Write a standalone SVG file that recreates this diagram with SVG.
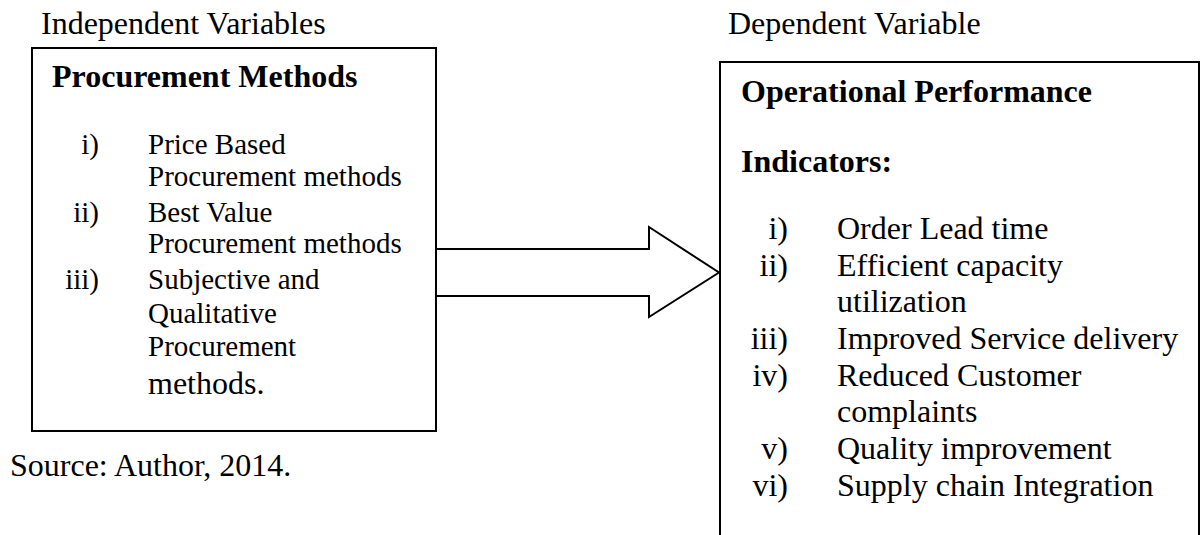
<svg xmlns="http://www.w3.org/2000/svg" width="1200" height="535" viewBox="0 0 1200 535">
  <style>
    text { font-family: "Liberation Serif", "Times New Roman", serif; fill: #000; }
    .hdr { font-size: 32px; }
    .ttl { font-size: 32px; font-weight: bold; }
    .sm { font-size: 29px; }
    .lg { font-size: 32px; }
    .num { text-anchor: end; }
    .box { fill: #fff; stroke: #000; stroke-width: 2; }
    .arrow { fill: #fff; stroke: #000; stroke-width: 2; stroke-linejoin: miter; }
  </style>
  <rect width="1200" height="535" fill="#fff"/>

  <g id="labels">
    <text class="hdr" x="41" y="34">Independent Variables</text>
    <text class="hdr" x="728" y="34">Dependent Variable</text>
    <text class="lg" x="10" y="476">Source: Author, 2014.</text>
  </g>

  <g id="connectors">
    <path class="arrow" d="M436,249 L649,249 L649,227 L719,272.5 L649,317 L649,296 L436,296"/>
  </g>

  <g id="procurement-methods">
    <rect class="box" x="32" y="48" width="404" height="383"/>
    <text class="ttl" x="52" y="87">Procurement Methods</text>
    <text class="sm num" x="99" y="154">i)</text>
    <text class="sm" x="148" y="154">Price Based</text>
    <text class="sm" x="148" y="186">Procurement methods</text>
    <text class="sm num" x="99" y="222">ii)</text>
    <text class="sm" x="148" y="222">Best Value</text>
    <text class="sm" x="148" y="253">Procurement methods</text>
    <text class="sm num" x="99" y="289">iii)</text>
    <text class="sm" x="148" y="289">Subjective and</text>
    <text class="sm" x="148" y="323">Qualitative</text>
    <text class="sm" x="148" y="356">Procurement</text>
    <text class="lg" x="148" y="394">methods.</text>
  </g>

  <g id="operational-performance">
    <rect class="box" x="720" y="62" width="479" height="485"/>
    <text class="ttl" x="741" y="102">Operational Performance</text>
    <text class="ttl" x="741" y="172">Indicators:</text>
    <text class="lg num" x="788" y="239">i)</text>
    <text class="lg" x="837" y="239">Order Lead time</text>
    <text class="lg num" x="788" y="276">ii)</text>
    <text class="lg" x="837" y="276">Efficient capacity</text>
    <text class="lg" x="837" y="312">utilization</text>
    <text class="lg num" x="788" y="349">iii)</text>
    <text class="lg" x="837" y="349">Improved Service delivery</text>
    <text class="lg num" x="788" y="386">iv)</text>
    <text class="lg" x="837" y="386">Reduced Customer</text>
    <text class="lg" x="837" y="422">complaints</text>
    <text class="lg num" x="788" y="459">v)</text>
    <text class="lg" x="837" y="459">Quality improvement</text>
    <text class="lg num" x="788" y="496">vi)</text>
    <text class="lg" x="837" y="496">Supply chain Integration</text>
  </g>
</svg>
